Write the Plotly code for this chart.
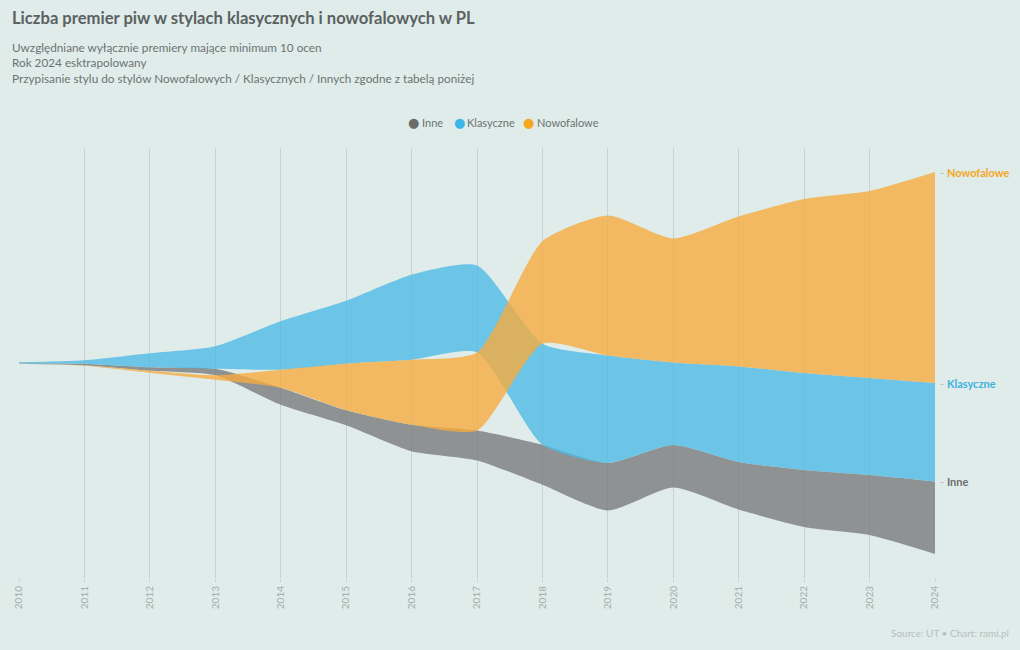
import plotly.graph_objects as go

years = list(range(2010, 2025))
inne = [1, 3, 7, 13, 34, 30, 53, 60, 80, 95, 85, 95, 114, 120, 145]
klasyczne = [2, 7, 28, 45, 97, 126, 170, 174, 202, 215, 165, 191, 194, 194, 197]
nowofalowe = [0, 1, 4, 9, 36, 93, 130, 156, 205, 280, 248, 300, 348, 374, 422]

series_names = ["Inne", "Klasyczne", "Nowofalowe"]
series_values = [inne, klasyczne, nowofalowe]
fill_colors = ["rgba(122,124,125,0.8)", "rgba(79,186,229,0.8)", "rgba(246,171,64,0.8)"]
legend_colors = ["#6b6d6d", "#3db5e6", "#f5a623"]
label_colors = ["#6b6e6e", "#3db1df", "#f5a623"]
tie_priority = [1, 0, 2]  # Klasyczne, Inne, Nowofalowe on ties

BG = "#dfece9"
FONT = "Lato"
SMOOTH = 0.6

# streamgraph layout: centred, ranked by value each year (largest on top)
n = len(series_values)
upper = [[0.0] * len(years) for _ in range(n)]
lower = [[0.0] * len(years) for _ in range(n)]
for j in range(len(years)):
    vals = [series_values[i][j] for i in range(n)]
    order = sorted(range(n), key=lambda i: (-vals[i], tie_priority[i]))
    cur = sum(vals) / 2.0
    for i in order:
        upper[i][j] = cur
        cur -= vals[i]
        lower[i][j] = cur

fig = go.Figure()
for i, name in enumerate(series_names):
    fig.add_trace(go.Scatter(
        x=years, y=lower[i], mode="lines",
        line=dict(width=0, shape="spline", smoothing=SMOOTH, color=fill_colors[i]),
        showlegend=False, hoverinfo="skip",
    ))
    fig.add_trace(go.Scatter(
        x=years, y=upper[i], mode="lines", fill="tonexty",
        fillcolor=fill_colors[i],
        line=dict(width=0, shape="spline", smoothing=SMOOTH, color=fill_colors[i]),
        showlegend=False, name=name,
        customdata=series_values[i],
        hovertemplate="%{x}: %{customdata}<extra>" + name + "</extra>",
    ))

# plot geometry in pixels (for placing texts around the plot)
plot_top, plot_h, plot_l, plot_w = 148, 430, 17, 918
def to_paper(px_x, px_y):
    return (px_x - plot_l) / plot_w, (plot_top + plot_h - px_y) / plot_h

# right-hand labels
for i, name in enumerate(series_names):
    fig.add_annotation(
        x=years[-1], y=upper[i][-1], xref="x", yref="y",
        text="<span style='color:#b3bcba'>- </span><b>" + name + "</b>",
        showarrow=False, xanchor="left", yanchor="middle", xshift=3,
        font=dict(family=FONT, size=11, color=label_colors[i]),
    )

# legend (dot + name), centred above the plot
legend_items = [(412, 421), (458, 466), (528, 536)]
for i, name in enumerate(series_names):
    dx, tx = legend_items[i]
    x0, y0 = to_paper(dx, 123)
    fig.add_annotation(
        x=x0, y=y0, xref="paper", yref="paper", text="●",
        showarrow=False, xanchor="center", yanchor="middle",
        font=dict(family="DejaVu Sans", size=13, color=legend_colors[i]),
    )
    x1, y1 = to_paper(tx - 2, 123)
    fig.add_annotation(
        x=x1, y=y1, xref="paper", yref="paper", text=name,
        showarrow=False, xanchor="left", yanchor="middle",
        font=dict(family=FONT, size=11, color="#6d7372"),
    )

TITLE = "Liczba premier piw w stylach klasycznych i nowofalowych w PL"
SUB = ("Uwzględniane wyłącznie premiery mające minimum 10 ocen<br>"
       "Rok 2024 esktrapolowany<br>"
       "Przypisanie stylu do stylów Nowofalowych / Klasycznych / Innych zgodne z tabelą poniżej")

x, y = to_paper(8, 18)
fig.add_annotation(
    x=x, y=y, xref="paper", yref="paper", text="<b>" + TITLE + "</b>",
    showarrow=False, xanchor="left", yanchor="middle",
    font=dict(family=FONT, size=16.6, color="#5b6161"),
)
x, y = to_paper(8, 38)
fig.add_annotation(
    x=x, y=y, xref="paper", yref="paper", text=SUB, align="left",
    showarrow=False, xanchor="left", yanchor="top",
    font=dict(family=FONT, size=11.75, color="#6d7372"),
)
x, y = to_paper(1011, 633)
fig.add_annotation(
    x=x, y=y, xref="paper", yref="paper",
    text="Source: UT • Chart: rami.pl",
    showarrow=False, xanchor="right", yanchor="middle",
    font=dict(family=FONT, size=10, color="#b6c0be"),
)

half = plot_h / 2 * 2  # 2 units per px
fig.update_layout(
    width=1020, height=650,
    paper_bgcolor=BG, plot_bgcolor=BG,
    margin=dict(l=plot_l, r=1020 - plot_l - plot_w, t=plot_top, b=650 - plot_top - plot_h),
    showlegend=False,
    xaxis=dict(
        range=[2010, 2024], tickvals=years, ticktext=[str(v) for v in years],
        tickangle=-90, showgrid=True, gridcolor="#c6d3d0", gridwidth=1,
        zeroline=False, showline=False, ticks="outside", ticklen=3, tickcolor="#c6d3d0",
        tickfont=dict(family=FONT, size=10, color="#a4adab"),
        fixedrange=True,
    ),
    yaxis=dict(
        range=[-half, half], visible=False, showgrid=False, zeroline=False, fixedrange=True,
    ),
    font=dict(family=FONT),
)

fig.write_html(
    "out.html",
    config={"displayModeBar": False},
    post_script="document.body.style.margin='0';document.body.style.padding='0';",
)
